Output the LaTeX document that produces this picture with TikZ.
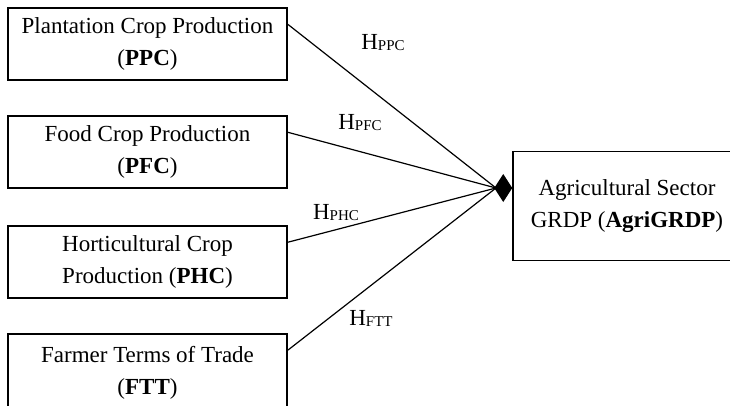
\documentclass[tikz,border=0pt]{standalone}
\usepackage{fontspec}
\setmainfont{Liberation Serif}
\usetikzlibrary{arrows.meta}
\usetikzlibrary{positioning,calc}
\tikzset{
    factor/.style={
        draw,
        line width=1.5pt,
        minimum width=279pt,
        minimum height=72pt,
        align=center,
        inner sep=0pt,
        font=\fontsize{23}{32}\selectfont
    },
    link/.style={
        draw,
        line width=1.2pt
    },
    hyp/.style={
        inner sep=0pt,
        font=\fontsize{23}{23}\selectfont
    }
}
\newcommand{\hyplabel}[1]{H\raisebox{-1pt}{\fontsize{15}{15}\selectfont #1}}

\begin{document}
\begin{tikzpicture}[x=1pt, y=-1pt]
  \useasboundingbox (0,0) rectangle (730,405);
  \clip (0,0) rectangle (730,405);

  % Independent variables
  \node[factor] (ppc) at (147.5,44) {Plantation Crop Production\\(\textbf{PPC})};
  \node[factor] (pfc) at (147.5,152) {Food Crop Production\\(\textbf{PFC})};
  \node[factor] (phc) at (147.5,262) {Horticultural Crop\\Production (\textbf{PHC})};
  \node[factor, minimum height=78pt] (ftt) at (147.5,373) {Farmer Terms of Trade\\(\textbf{FTT})};

  % Dependent variable
  \node[factor, minimum width=228pt, minimum height=109pt] (agri) at (627,206) {Agricultural Sector\\GRDP (\textbf{AgriGRDP})};

  % Hypothesis paths
  \coordinate (hub) at (496,188);
  \foreach \f in {ppc,pfc,phc,ftt} {
    \draw[link] ([yshift=-17pt]\f.north east) -- (hub);
  }
  \draw[link, -{Diamond[length=18pt, width=28pt]}] (hub) -- (hub -| agri.west);

  % Hypothesis labels
  \node[hyp] (hppc) at (383,43) {\hyplabel{PPC}};
  \node[hyp] (hpfc) at (360,123) {\hyplabel{PFC}};
  \node[hyp] (hphc) at (336,213) {\hyplabel{PHC}};
  \node[hyp] (hftt) at (371,318) {\hyplabel{FTT}};
\end{tikzpicture}
\end{document}
